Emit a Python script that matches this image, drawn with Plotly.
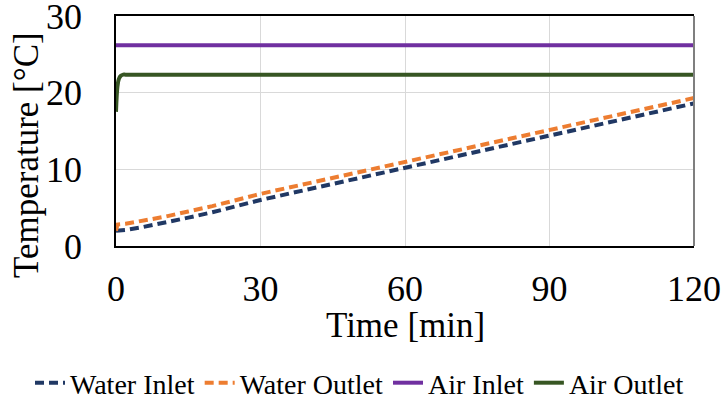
import plotly.graph_objects as go

# Data
time_water = [0, 0.3, 2, 5, 10, 15, 20, 30, 45, 60, 75, 90, 105, 120]
water_inlet = [2.0, 2.0, 2.1, 2.4, 3.0, 3.7, 4.4, 6.0, 8.1, 10.2, 12.3, 14.4, 16.5, 18.6]
water_outlet = [2.0, 2.8, 2.9, 3.2, 3.8, 4.5, 5.2, 6.8, 8.9, 11.0, 13.1, 15.2, 17.2, 19.3]

time_air = [0, 0.3, 0.6, 1.0, 1.5, 2, 30, 60, 90, 120]
air_inlet = [26.2, 26.2, 26.2, 26.2, 26.2, 26.2, 26.2, 26.2, 26.2, 26.2]
air_outlet = [17.5, 20.8, 21.8, 22.2, 22.35, 22.35, 22.35, 22.35, 22.35, 22.35]

x_ticks = [0, 30, 60, 90, 120]
y_ticks = [0, 10, 20, 30]

FONT = "Liberation Serif, Times New Roman, serif"
L, R, T, B = 116, 30, 16, 156
PW, PH = 724 - L - R, 402 - T - B

fig = go.Figure()
fig.add_trace(go.Scatter(x=time_water, y=water_inlet, mode="lines", name="Water Inlet",
                         line=dict(color="#203864", width=4, dash="9px,5px")))
fig.add_trace(go.Scatter(x=time_water, y=water_outlet, mode="lines", name="Water Outlet",
                         line=dict(color="#ED7D31", width=4, dash="9px,5px")))
fig.add_trace(go.Scatter(x=time_air, y=air_inlet, mode="lines", name="Air Inlet",
                         line=dict(color="#7030A0", width=4)))
fig.add_trace(go.Scatter(x=time_air, y=air_outlet, mode="lines", name="Air Outlet",
                         line=dict(color="#375623", width=4, shape="spline")))

fig.update_layout(
    width=724, height=402,
    margin=dict(l=L, r=R, t=T, b=B, autoexpand=False),
    paper_bgcolor="white", plot_bgcolor="white",
    font=dict(family=FONT, color="black", size=36),
    showlegend=True,
    legend=dict(orientation="h", x=(30 - L) / PW, xanchor="left", y=-(383 - (T + PH)) / PH,
                yanchor="middle",
                font=dict(size=28, family=FONT), itemwidth=30, tracegroupgap=0,
                bgcolor="rgba(0,0,0,0)"),
    xaxis=dict(range=[0, 120], tickvals=x_ticks, ticktext=[str(v) for v in x_ticks],
               showgrid=True, gridcolor="#d9d9d9", gridwidth=1,
               showline=True, linecolor="black", linewidth=1.5, mirror=True,
               zeroline=False, ticks="", ticklabelstandoff=10, ticklabeloverflow="allow",
               automargin=False,
               tickfont=dict(size=36, family=FONT)),
    yaxis=dict(range=[0, 30], tickvals=y_ticks, ticktext=[str(v) for v in y_ticks],
               showgrid=True, gridcolor="#d9d9d9", gridwidth=1,
               showline=True, linecolor="black", linewidth=1.5, mirror=False,
               zeroline=False, ticks="", ticklabelstandoff=25, ticklabeloverflow="allow",
               automargin=False,
               tickfont=dict(size=36, family=FONT)),
)
fig.add_annotation(text="Temperature [°C]", xref="paper", yref="paper",
                   x=-(L - 26) / PW, y=(T + PH - 155) / PH, xanchor="center", yanchor="middle",
                   textangle=-90, showarrow=False, font=dict(size=35, family=FONT))
fig.add_annotation(text="Time [min]", xref="paper", yref="paper",
                   x=(405 - L) / PW, y=-(325 - (T + PH)) / PH, xanchor="center", yanchor="middle",
                   showarrow=False, font=dict(size=35, family=FONT))
fig.add_shape(type="line", xref="paper", yref="paper", x0=1, x1=1, y0=0, y1=1,
              line=dict(color="#7f7f7f", width=2))

fig.write_html("out.html")
